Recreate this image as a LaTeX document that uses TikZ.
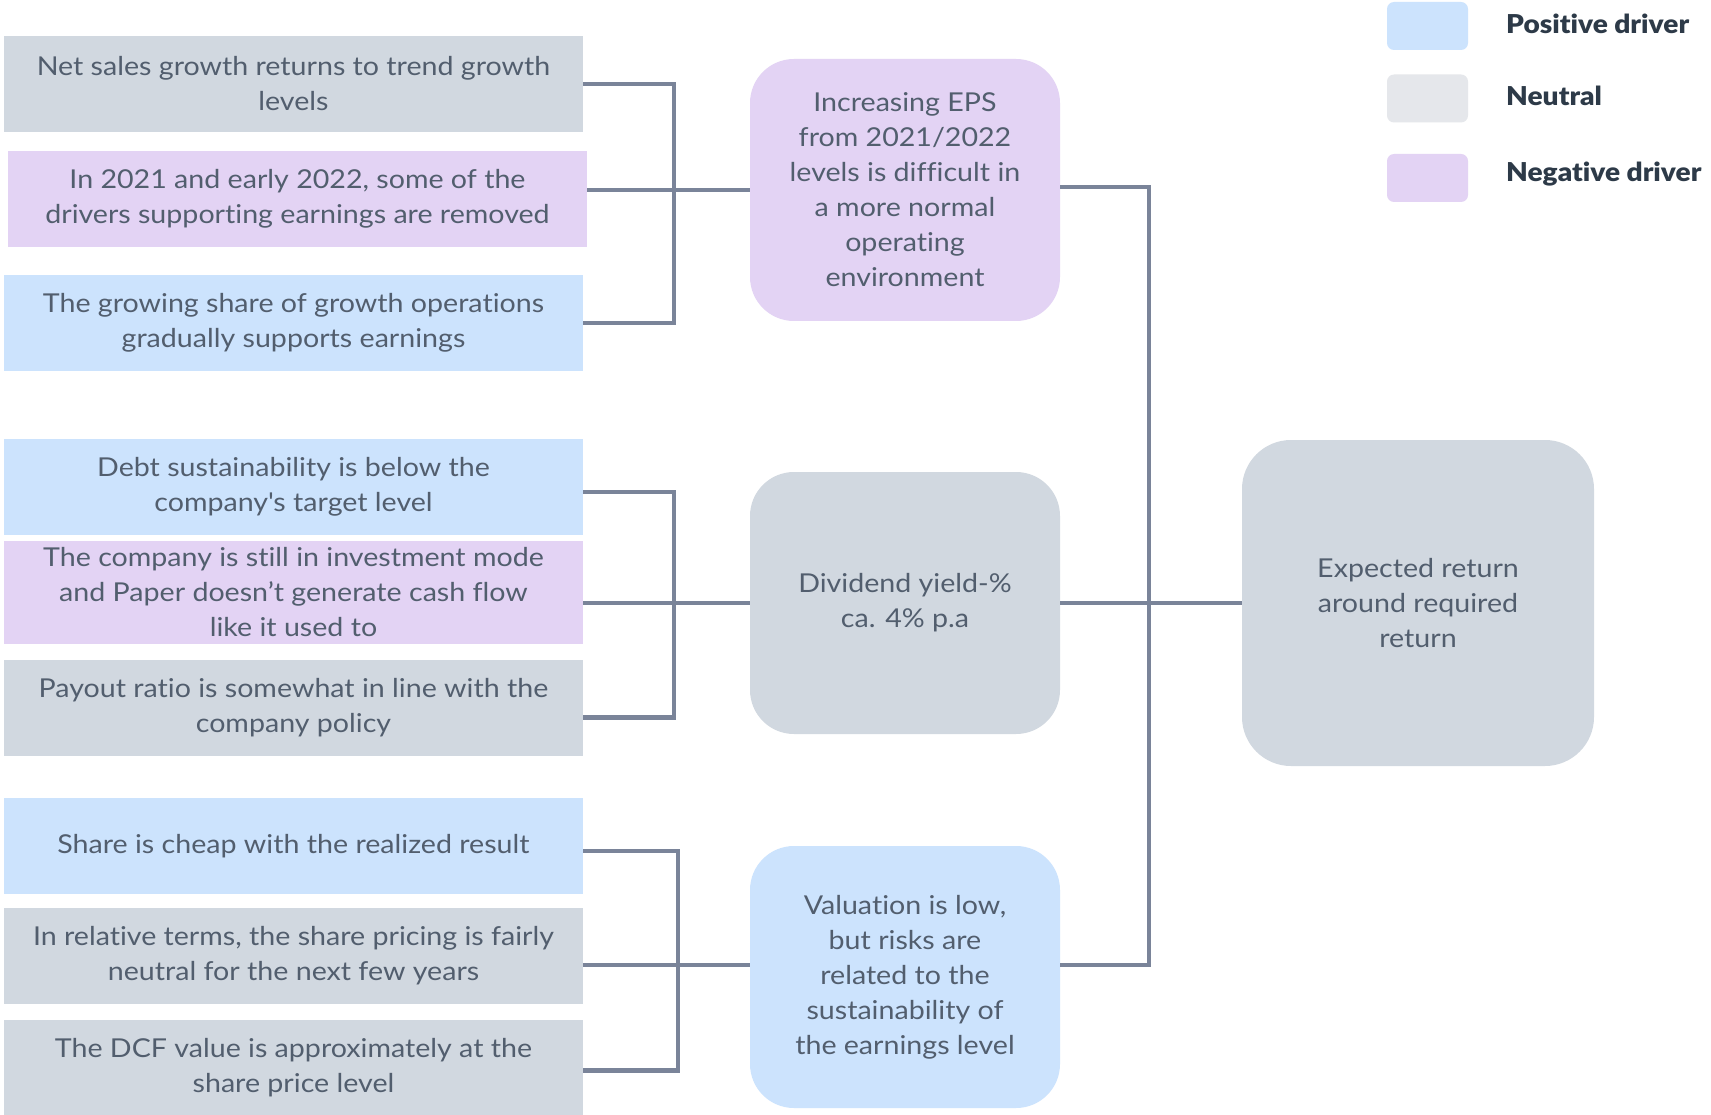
\documentclass[tikz,border=0pt]{standalone}
\usepackage{fontspec}
\setmainfont{Lato}[Ligatures={TeX,NoCommon},FakeStretch=1.1]
\newfontfamily\legfont{Lato Black}[Ligatures={TeX,NoCommon},FakeStretch=1.08]
\definecolor{posc}{HTML}{CCE3FD}
\definecolor{neuc}{HTML}{D1D8E0}
\definecolor{negc}{HTML}{E3D3F4}
\definecolor{legneu}{HTML}{E5E7EB}
\definecolor{linec}{HTML}{7A8499}
\definecolor{txtc}{HTML}{525E6E}
\definecolor{legtxt}{HTML}{2D3A48}
\begin{document}
\begin{tikzpicture}[x=1pt,y=-1pt,
  txt/.style={font=\fontsize{26}{35}\selectfont, text=txtc, align=center, inner sep=0pt},
  lbox/.style={txt, minimum width=579pt, minimum height=96pt},
  mbox/.style={txt, rounded corners=44pt, minimum width=310pt, minimum height=262pt},
  conn/.style={draw=linec, line width=4.5pt},
  legbox/.style={rounded corners=7pt, minimum width=81pt, minimum height=48pt, inner sep=0pt},
  legtext/.style={font=\legfont\fontsize{26}{30}\selectfont, text=legtxt, anchor=west, inner sep=0pt}]
\useasboundingbox (0,0) rectangle (1711,1115);
\fill[white] (0,0) rectangle (1711,1115);

% left boxes
\node[lbox, fill=neuc] (b1) at (293.5,84) {Net sales growth returns to trend growth\\levels};
\node[lbox, fill=negc] (b2) at (297.5,199) {In 2021 and early 2022, some of the\\drivers supporting earnings are removed};
\node[lbox, fill=posc] (b3) at (293.5,323) {The growing share of growth operations\\gradually supports earnings};
\node[lbox, fill=posc] (b4) at (293.5,487) {Debt sustainability is below the\\company\textquotesingle s target level};
\node[lbox, fill=negc, minimum height=103pt] (b5) at (293.5,592.5) {The company is still in investment mode\\and Paper doesn’t generate cash flow\\like it used to};
\node[lbox, fill=neuc] (b6) at (293.5,707.5) {Payout ratio is somewhat in line with the\\company policy};
\node[lbox, fill=posc] (b7) at (293.5,846) {Share is cheap with the realized result};
\node[lbox, fill=neuc] (b8) at (293.5,956) {In relative terms, the share pricing is fairly\\neutral for the next few years};
\node[lbox, fill=neuc] (b9) at (293.5,1067.5) {The DCF value is approximately at the\\share price level};

% middle boxes
\node[mbox, fill=negc] (eps) at (905,190) {Increasing EPS\\from 2021/2022\\levels is difficult in\\a more normal\\operating\\environment};
\node[mbox, fill=neuc] (div) at (905,603) {Dividend yield-\%\\ca. 4\% p.a};
\node[mbox, fill=posc] (val) at (905,977) {Valuation is low,\\but risks are\\related to the\\sustainability of\\the earnings level};

% result
\node[txt, fill=neuc, rounded corners=49pt, minimum width=352pt, minimum height=326pt] (res) at (1418,603) {Expected return\\around required\\return};

% legend
\node[legbox, fill=posc] (l1) at (1427.5,26) {};
\node[legbox, fill=legneu] (l2) at (1427.5,98.5) {};
\node[legbox, fill=negc] (l3) at (1427.5,178) {};
\node[legtext] (t1) at (1506,24) {Positive driver};
\node[legtext] (t2) at (1506,96) {Neutral};
\node[legtext] (t3) at (1506,174) {Negative driver};

% junction coordinates
\coordinate (v1) at (674,190);
\coordinate (v2) at (674,603);
\coordinate (v3) at (678,965);
\coordinate (vr) at (1149,603);

% group 1
\draw[conn] (b1.east) -| (v1);
\draw[conn] (b3.east) -| (v1);
\draw[conn] (b2.east |- v1) -- (eps.west);
% group 2
\draw[conn] ([yshift=-5pt]b4.east) -| (v2);
\draw[conn] ([yshift=-10pt]b6.east) -| (v2);
\draw[conn] (b5.east |- v2) -- (div.west);
% group 3
\draw[conn] ([yshift=-5pt]b7.east) -| (v3);
\draw[conn] ([yshift=-3pt]b9.east) -| (v3);
\draw[conn] (b8.east |- v3) -- (v3 -| val.west);
% right side
\draw[conn] ([yshift=3pt]eps.east) -| (vr);
\draw[conn] (val.east |- v3) -| (vr);
\draw[conn] (div.east) -- (res.west);
\end{tikzpicture}
\end{document}
